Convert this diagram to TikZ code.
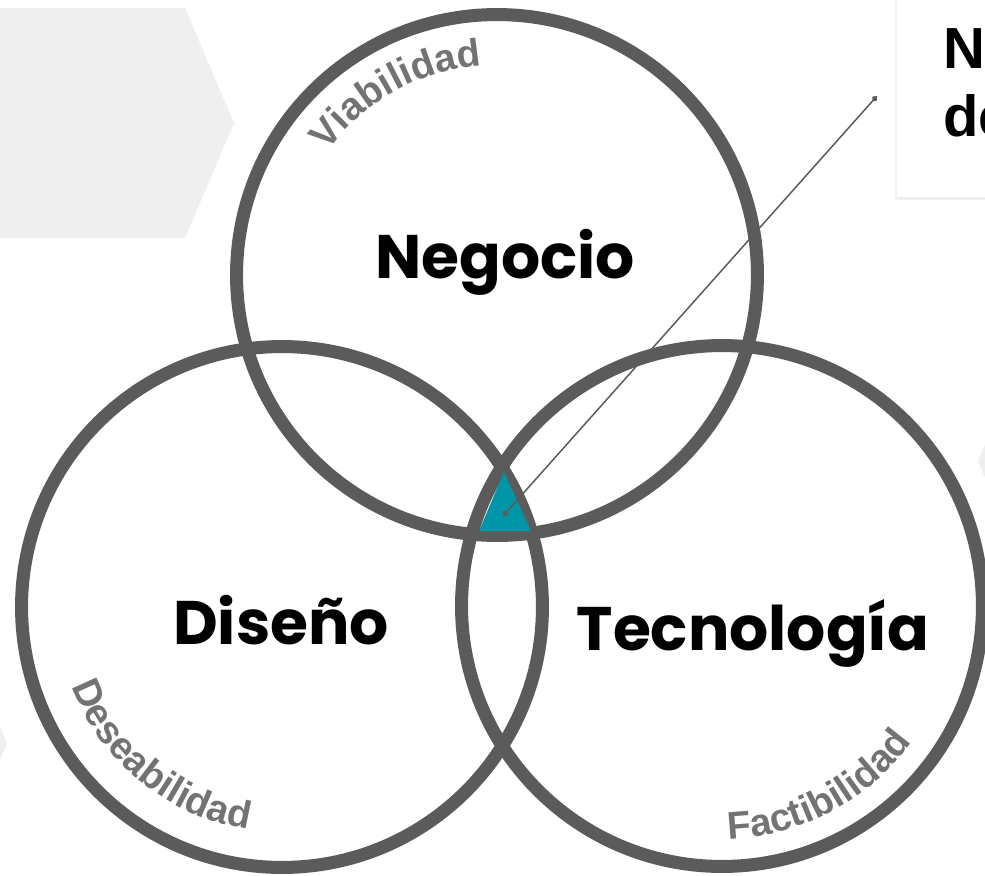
\documentclass[tikz,border=0pt]{standalone}
\usepackage{fontspec}
\usepackage{xcolor}
\usetikzlibrary{decorations.text,arrows.meta,shadows}
\setmainfont{Liberation Sans}
\newfontfamily\titlefont{Poppins}
\definecolor{ringgray}{RGB}{91,91,91}
\definecolor{labelgray}{RGB}{115,115,115}
\definecolor{corecyan}{RGB}{0,150,167}
\definecolor{panelgray}{RGB}{239,239,239}

\begin{document}
\begin{tikzpicture}[x=0.02cm, y=-0.02cm,
    ring/.style={draw=ringgray, line width=7.4pt, circle, minimum size=10.42cm, inner sep=0pt},
    areatext/.style={font=\titlefont\bfseries\fontsize{35}{40}\selectfont, anchor=base},
    arctext/.style={decorate, decoration={text along path, text align=center,
        text={|\bfseries\fontsize{22}{25}\selectfont\color{labelgray}|#1}}}]
    % Fondo
    \path[fill=white, use as bounding box] (0,0) rectangle (985,876);

    % Paneles grises
    \fill[panelgray] (-5,8) -- (185,8) -- (234,123) -- (185,238) -- (-5,238) -- cycle;
    \fill[panelgray] (-42,628) -- (7,743) -- (-42,858) -- cycle;
    \fill[panelgray] (978,461) -- (1027,346) -- (1027,576) -- cycle;

    % Circulos
    \node[ring] (negocio) at (497,275) {};
    \node[ring] (diseno) at (282,607) {};
    \node[ring] (tecno) at (722,606) {};

    % Zona comun
    \fill[corecyan] (504,472) -- (479,531) -- (531,531) -- cycle;

    % Titulos
    \node[areatext] (negociotxt) at (505,278) {Negocio};
    \node[areatext] (disenotxt) at (281,644) {Diseño};
    \node[areatext] (tecnotxt) at (753,650) {Tecnología};

    % Textos curvos
    \path[arctext=Viabilidad] (negocio.center) ++(151:4.2cm) arc[start angle=151, end angle=87, radius=4.2cm];
    \path[arctext=Deseabilidad] (diseno.center) ++(194:4.5cm) arc[start angle=194, end angle=268, radius=4.5cm];
    \path[arctext=Factibilidad] (tecno.center) ++(263:4.66cm) arc[start angle=263, end angle=333, radius=4.66cm];

    % Nota
    \node[fill=white, minimum width=3cm, minimum height=4.34cm, anchor=north west,
        drop shadow={shadow xshift=-1.2pt, shadow yshift=-1.5pt, opacity=0.12}] (callout) at (897,-20) {};
    \node[anchor=north west, align=left, inner sep=0pt,
        font=\bfseries\fontsize{33}{38.7}\selectfont] (calloutxt) at (943,28) {N\\de};

    % Linea
    \coordinate (core) at (503,516);
    \coordinate (tip) at (877,96);
    \draw[ringgray, line width=0.85pt, {Diamond[length=4pt,width=3.5pt]}-{Diamond[length=4pt,width=3.5pt]}] (core) -- (tip);
\end{tikzpicture}
\end{document}
